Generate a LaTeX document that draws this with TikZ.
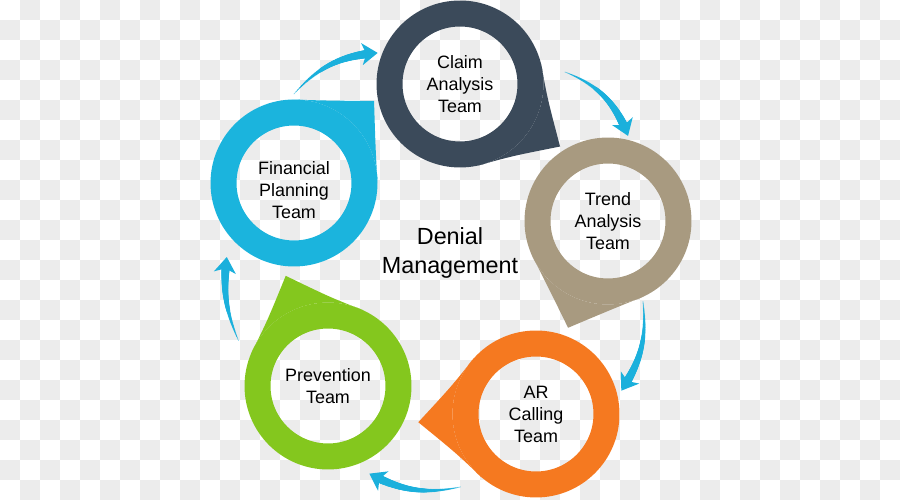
\documentclass[tikz,border=0pt]{standalone}
\usepackage{fontspec}
\setmainfont{Liberation Sans}
\usetikzlibrary{calc,decorations.markings}

\definecolor{claimgray}{RGB}{59,74,90}
\definecolor{trendtan}{RGB}{168,154,128}
\definecolor{arorange}{RGB}{245,121,32}
\definecolor{prevgreen}{RGB}{132,199,30}
\definecolor{finblue}{RGB}{27,180,221}
\definecolor{flowblue}{RGB}{27,176,220}
\definecolor{checkgray}{RGB}{236,236,236}

\tikzset{
  team/.style={circle, draw=#1, line width=0.52cm, minimum size=2.82cm, inner sep=0pt,
    align=center, font=\fontsize{10.2}{12.5}\selectfont},
  teamtext/.style={align=center, font=\fontsize{10.2}{12.5}\selectfont},
  flow/.style={postaction={decorate}, decoration={markings,
    mark=between positions 0 and 0.89 step 0.5pt with {
      \pgfmathsetmacro\flowr{0.2+2.5*\pgfkeysvalueof{/pgf/decoration/mark info/distance from start}/\pgfdecoratedpathlength}
      \fill[flowblue] (0,0) circle (\flowr pt);},
    mark=at position 1 with {\fill[flowblue] (0.5pt,0) -- (-8.5pt,6.3pt) -- (-6pt,0) -- (-8.5pt,-6.3pt) -- cycle;}}}
}

\begin{document}
\begin{tikzpicture}[x=0.02cm, y=0.02cm]
\useasboundingbox (0,0) rectangle (900,500);

% checkered backdrop
\foreach \i in {0,...,44}
  \foreach \j in {0,...,24}
    {\ifodd\numexpr\i+\j\relax \fill[checkgray] (20*\i,480-20*\j) rectangle ++(20,20); \fi}

% the five teams
\node[team=claimgray] (claim) at (460,416) {Claim\\Analysis\\Team};
\node[team=trendtan] (trend) at (608,279) {Trend\\Analysis\\Team};
\node[team=arorange] (ar) at (536,86) {AR\\Calling\\Team};
\node[team=prevgreen] (prev) at (328,114) {Prevention\\Team};
\node[team=finblue] (fin) at (294,317) {};
\node[teamtext] (fintext) at ($(fin)+(0,-7)$) {Financial\\Planning\\Team};

% pointed tails, slightly hollow sides
\foreach \n/\c/\a/\d in {claim/claimgray/-32/118, trend/trendtan/-110.5/114, ar/arorange/184/118, prev/prevgreen/111/118, fin/finblue/45.7/114.6}
  \fill[\c] ($(\n)+(\a:\d)$) .. controls ($(\n)+(\a+22:89)$) .. ($(\n)+(\a+46:83.5)$)
    arc[start angle=\a+46, end angle=\a-46, radius=83.5]
    .. controls ($(\n)+(\a-22:89)$) .. ($(\n)+(\a:\d)$) -- cycle;

\node[font=\fontsize{13.3}{16}\selectfont, align=center] (title) at (450,247) {Denial\\Management};

% cycle arrows
\path[flow] ($(fin)+(90:89)$) to[bend left=22] ($(claim)+(159.5:88.6)$);
\path[flow] ($(claim)+(6.5:105.7)$) to[bend left=24] ($(trend)+(77:88)$);
\path[flow] ($(trend)+(-66.6:88)$) to[bend left=20] ($(ar)+(15.6:89)$);
\path[flow] ($(ar)+(224:105)$) to[bend left=20] ($(prev)+(-64.5:97.5)$);
\path[flow] ($(prev)+(153:100.6)$) to[bend left=15] ($(fin)+(228:100.6)$);
\end{tikzpicture}
\end{document}
